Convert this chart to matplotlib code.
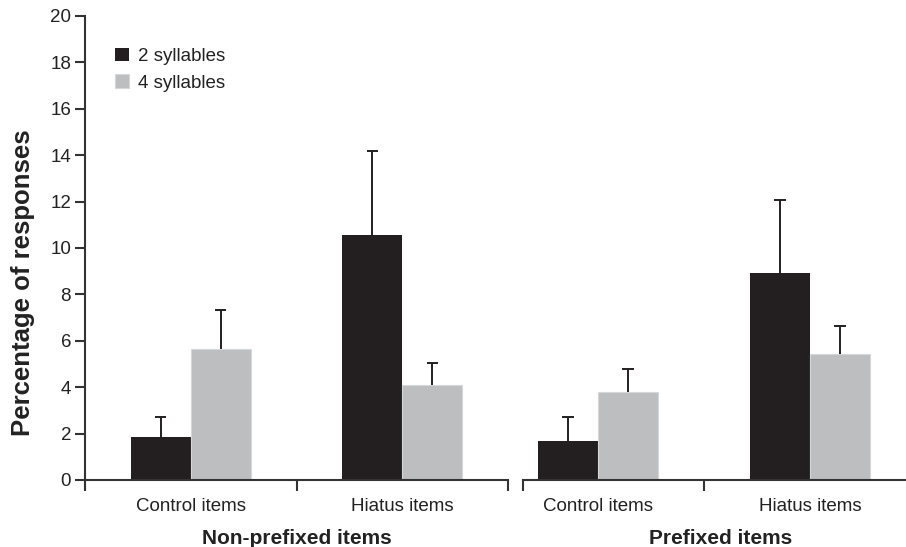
import matplotlib
matplotlib.use("Agg")
import matplotlib.pyplot as plt
import numpy as np

plt.rcParams['font.family'] = ['Liberation Sans', 'DejaVu Sans']

# Data
categories = ["Control items", "Hiatus items"]
groups = ["Non-prefixed items", "Prefixed items"]
series = ["2 syllables", "4 syllables"]

nonpref_2syl = [1.85, 10.55]
nonpref_4syl = [5.65, 4.08]
nonpref_2syl_err = [0.85, 3.65]
nonpref_4syl_err = [1.69, 0.96]

pref_2syl = [1.68, 8.92]
pref_4syl = [3.79, 5.45]
pref_2syl_err = [1.02, 3.15]
pref_4syl_err = [0.99, 1.20]

yticks = list(range(0, 21, 2))

BLACK = "#231f20"
GRAY = "#bcbec0"
AXC = "#333333"
TXT = "#222222"

W, H = 906, 547
fig = plt.figure(figsize=(W / 100, H / 100), dpi=100)

y0, y1 = 480, 16
ax1 = fig.add_axes([85 / W, 1 - y0 / H, (508 - 85) / W, (y0 - y1) / H])
ax2 = fig.add_axes([523 / W, 1 - y0 / H, (906 - 523) / W, (y0 - y1) / H], sharey=ax1)

bw = 0.283
cap = 0.026
x = np.array([0.5, 1.5])


def upper_err(ax, xs, vals, errs):
    vals = np.asarray(vals)
    tops = vals + np.asarray(errs)
    ax.vlines(xs, vals, tops, color=BLACK, linewidth=1.4, zorder=3)
    ax.hlines(tops, xs - cap, xs + cap, color=BLACK, linewidth=1.4, zorder=3)


def draw_panel(ax, v2, v4, e2, e4):
    ax.bar(x - bw / 2, v2, bw, color=BLACK, label=series[0], zorder=2)
    ax.bar(x + bw / 2, v4, bw, color=GRAY, label=series[1], zorder=2,
           edgecolor="#d6d7d8", linewidth=0.8)
    upper_err(ax, x - bw / 2, v2, e2)
    upper_err(ax, x + bw / 2, v4, e4)
    ax.set_ylim(0, 20)
    for s in ["top", "right"]:
        ax.spines[s].set_visible(False)
    ax.spines["bottom"].set_color(AXC)
    ax.spines["bottom"].set_linewidth(1.5)
    ax.set_xticks(x, minor=True)
    ax.set_xticklabels(categories, minor=True, fontsize=13.5, color=TXT)
    ax.tick_params(axis="x", which="minor", length=0, pad=13)
    ax.tick_params(axis="x", which="major", length=8, width=1.5, color=AXC,
                   labelbottom=False)


draw_panel(ax1, nonpref_2syl, nonpref_4syl, nonpref_2syl_err, nonpref_4syl_err)
draw_panel(ax2, pref_2syl, pref_4syl, pref_2syl_err, pref_4syl_err)

ax1.set_xlim(0, 2)
ax1.set_xticks([0, 1, 2])
ax2.set_xlim(31 / 212, (906 - 492) / 212)
ax2.set_xticks([31 / 212, 1])

ax1.spines["left"].set_color(AXC)
ax1.spines["left"].set_linewidth(1.5)
ax1.set_yticks(yticks)
ax1.tick_params(axis="y", length=7, width=1.5, color=AXC, labelsize=13.5,
                labelcolor=TXT, pad=3)
ax1.set_ylabel("Percentage of responses", fontsize=18.5, fontweight="bold",
               color=TXT)
ax1.yaxis.set_label_coords(-0.118, 0.425)

ax2.spines["left"].set_visible(False)
ax2.tick_params(axis="y", left=False, labelleft=False)

ax1.set_xlabel(groups[0], fontsize=15, fontweight="bold", color=TXT)
ax1.xaxis.set_label_coords(0.5, -0.105)
ax2.set_xlabel(groups[1], fontsize=15, fontweight="bold", color=TXT)
ax2.xaxis.set_label_coords((721 - 523) / 383, -0.105)

leg = ax1.legend(loc="upper left", bbox_to_anchor=(0.054, 0.948), frameon=False,
                 fontsize=13.5, handlelength=0.75, handleheight=0.75,
                 handletextpad=0.45, labelspacing=0.5, borderaxespad=0)
for t in leg.get_texts():
    t.set_color(TXT)

fig.savefig("out.png", dpi=100)
